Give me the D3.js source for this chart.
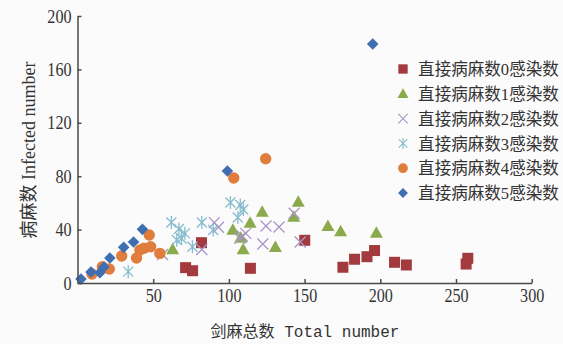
<!DOCTYPE html>
<html>
<head>
<meta charset="utf-8">
<script src="https://cdn.jsdelivr.net/npm/d3@7"></script>
<style>
  html, body { margin: 0; padding: 0; background: #fbfbfb; }
  svg { display: block; }
  .serif { font-family: "Liberation Serif", "Noto Sans CJK SC", serif; }
</style>
</head>
<body>
<svg id="chart" width="563" height="344"></svg>
<script>
// Field survey: total sisal plants vs. infected plants, grouped by directly diseased count
const seriesNames = [
  "直接病麻数0感染数", "直接病麻数1感染数", "直接病麻数2感染数",
  "直接病麻数3感染数", "直接病麻数4感染数", "直接病麻数5感染数"
];
const seriesColors = ["#a23a3e", "#8aaa4c", "#a996c6", "#86bccd", "#e07d3c", "#3f6fb1"];
const seriesShapes = ["square", "triangle", "cross", "asterisk", "circle", "diamond"];

// [total, infected]
const s0 = [[81.9,30.2],[71.4,11.5],[76,9.2],[114.2,11],[150.1,32],[175.3,11.8],[183,17.8],
            [191.2,19.7],[196.2,24.3],[209.4,15.5],[217.2,13.5],[257.8,18.5],[256.7,14.2]];
const s1 = [[62.8,25.2],[102.6,39.9],[107.8,33.9],[109.4,25.2],[114,45.2],[122,53.4],[130.7,27],
            [142.8,49.7],[145.8,60.9],[165.4,42.7],[173.8,38.7],[197.4,37.7]];
const s2 = [[56.2,21.3],[82.1,25.1],[90.4,45.2],[93.1,41.7],[107.2,33.5],[111.1,37.2],[109,35],
            [124.5,42.7],[133.1,41.9],[122.4,29.2],[143.1,52.2],[147.1,30.7]];
const s3 = [[33.5,8.5],[62,45.3],[67,40.4],[65.6,32.2],[68.7,33.3],[70.9,37.2],[75.9,27.2],
            [82.1,45.3],[89.6,39.7],[101,60.3],[107.5,58.4],[109.5,55],[105.9,49.1]];
const s4 = [[9.6,6.7],[16.4,12.2],[21,10.5],[29.2,20.2],[39,18.7],[41.2,24.7],[43.9,26],
            [48.3,27.2],[47.4,36],[54.4,22.2],[103.2,78.7],[124.3,93.1]];
const s5 = [[2.3,3],[8.9,8.2],[14.8,7.7],[17.5,12],[21.4,18.7],[30.5,26.7],[37,30.7],
            [42.9,40.2],[99,83.9],[195,179]];
const seriesValues = [s0, s1, s2, s3, s4, s5];

const yTicks = [0, 40, 80, 120, 160, 200];
const xTicks = [50, 100, 150, 200, 250, 300];
const xTitle = "剑麻总数 Total number";
const yTitle = "病麻数 Infected number";

const svg = d3.select("#chart");
const x = d3.scaleLinear().domain([0, 300]).range([77.5, 531.7]);
const y = d3.scaleLinear().domain([0, 200]).range([283, 16]);

// Marker painter
function drawMarker(g, shape, color) {
  if (shape === "square") {
    g.append("rect").attr("x", -5.5).attr("y", -5.5).attr("width", 11).attr("height", 11).attr("fill", color);
  } else if (shape === "triangle") {
    g.append("path").attr("d", "M0,-6.5L6.5,5L-6.5,5Z").attr("fill", color);
  } else if (shape === "circle") {
    g.append("circle").attr("r", 5.7).attr("fill", color);
  } else if (shape === "diamond") {
    g.append("path").attr("d", "M0,-5.8L5.8,0L0,5.8L-5.8,0Z").attr("fill", color);
  } else if (shape === "cross") {
    g.append("path").attr("d", "M-5.5,-5.5L5.5,5.5M-5.5,5.5L5.5,-5.5")
      .attr("stroke", color).attr("stroke-width", 1.3).attr("fill", "none");
  } else if (shape === "asterisk") {
    g.append("path").attr("d", "M-5,-5L5,5M-5,5L5,-5M0,-6.5L0,6.5")
      .attr("stroke", color).attr("stroke-width", 1.3).attr("fill", "none");
  }
}

// Points
seriesValues.forEach((vals, i) => {
  const layer = svg.append("g");
  layer.selectAll("g").data(vals).join("g")
    .attr("transform", d => `translate(${x(d[0])},${y(d[1])})`)
    .each(function () { drawMarker(d3.select(this), seriesShapes[i], seriesColors[i]); });
});

// Axes
const axisColor = "#4a4a4a";
const yAxis = svg.append("g").attr("transform", `translate(${x(0)},0)`)
  .call(d3.axisLeft(y).tickValues(yTicks).tickSizeInner(-4).tickSizeOuter(0).tickPadding(7));
const xAxis = svg.append("g").attr("transform", `translate(0,${y(0)})`)
  .call(d3.axisBottom(x).tickValues(xTicks).tickSizeInner(-4).tickSizeOuter(0).tickPadding(9));
[xAxis, yAxis].forEach(a => {
  a.select(".domain").attr("stroke", axisColor).attr("stroke-width", 1.5);
  a.selectAll(".tick line").attr("stroke", axisColor).attr("stroke-width", 1.5);
  a.selectAll(".tick text").attr("class", "serif").attr("font-size", 19)
    .attr("fill", "#333").attr("transform", "scale(0.85,1)");
});
xAxis.selectAll(".tick text").attr("dy", "0.71em").attr("y", 6);

// Axis titles
svg.append("text").attr("x", 305).attr("y", 337).attr("text-anchor", "middle")
  .attr("font-size", 16).attr("fill", "#333")
  .attr("font-family", "'Liberation Mono', 'Noto Sans CJK SC', monospace")
  .text(xTitle);
svg.append("text").attr("transform", "translate(35,150) rotate(-90)")
  .attr("text-anchor", "middle").attr("font-size", 18).attr("fill", "#333")
  .attr("class", "serif").text(yTitle);

// Legend
const legend = svg.append("g");
seriesNames.forEach((name, i) => {
  const row = legend.append("g").attr("transform", `translate(403,${69 + i * 24.8})`);
  drawMarker(row.append("g").attr("transform", "scale(0.85)"), seriesShapes[i], seriesColors[i]);
  row.append("text").attr("x", 15.5).attr("dy", "0.36em")
    .attr("class", "serif").attr("font-size", 17).attr("fill", "#333")
    .attr("transform", "scale(0.975,1)")
    .text(name);
});
</script>
</body>
</html>
